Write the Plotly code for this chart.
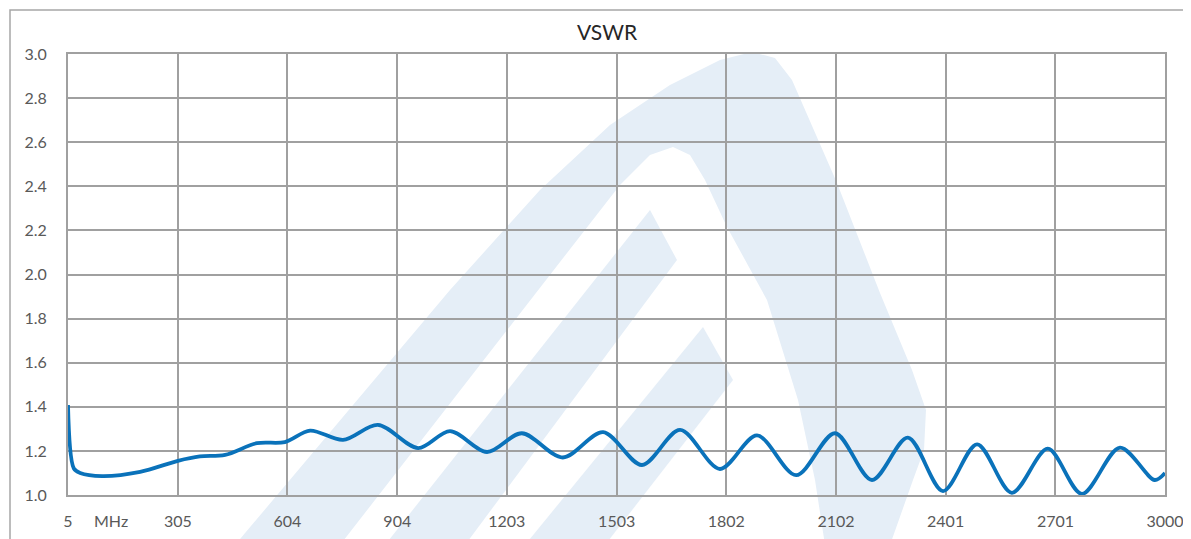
import plotly.graph_objects as go

# ---- data ----
freq_mhz = [5, 21, 38, 98, 202, 305, 365, 434, 521, 597, 666, 756, 851, 961, 1048,
            1149, 1244, 1356, 1466, 1572, 1676, 1785, 1886, 1993, 2099, 2200, 2298,
            2394, 2487, 2582, 2680, 2773, 2877, 2972, 3000]
vswr = [1.408, 1.12, 1.10, 1.086, 1.105, 1.155, 1.175, 1.182, 1.235, 1.24, 1.292, 1.25,
        1.318, 1.213, 1.29, 1.195, 1.28, 1.17, 1.285, 1.136, 1.295, 1.118, 1.27, 1.09,
        1.28, 1.068, 1.26, 1.018, 1.23, 1.01, 1.21, 1.005, 1.215, 1.068, 1.10]
x_ticks = [5, 305, 604, 904, 1203, 1503, 1802, 2102, 2401, 2701, 3000]
y_ticks = [1.0, 1.2, 1.4, 1.6, 1.8, 2.0, 2.2, 2.4, 2.6, 2.8, 3.0]

OFF = 8  # page body margin
W, H = 1191 - OFF, 539 - OFF
L, R, T, B = 68, 1165, 54, 495  # plot area in screen pixels
GRID = "#A0A0A0"
WM = "rgb(229,238,247)"


def px2paper(px, py):
    return (px - L) / (R - L), (B - py) / (B - T)


def poly(points):
    parts = []
    for i, (a, b) in enumerate(points):
        x, y = px2paper(a, b)
        parts.append(("M" if i == 0 else "L") + f"{x:.5f},{y:.5f}")
    return " ".join(parts) + " Z"


fig = go.Figure()
fig.add_trace(go.Scatter(
    x=freq_mhz, y=vswr, mode="lines",
    line=dict(color="#0A72BA", width=3.8, shape="spline", smoothing=0.9),
    hoverinfo="x+y", showlegend=False,
))

shapes = []
# watermark (stylised logo) - approximate
outer_a = [(235, 545), (450, 290), (540, 190), (610, 125), (670, 85), (720, 60), (752, 52),
           (775, 58), (792, 80), (837, 183), (880, 293), (912, 370), (926, 410), (924, 450),
           (913, 480), (890, 545), (825, 545), (815, 480), (798, 400), (767, 300), (727, 227),
           (705, 180), (690, 155), (673, 147), (650, 155), (620, 185), (560, 262), (340, 545)]
inner_band = [(650, 210), (677, 260), (465, 545), (385, 545)]
cross_piece = [(703, 327), (733, 380), (605, 545), (525, 545)]
for p in (outer_a, inner_band, cross_piece):
    shapes.append(dict(type="path", path=poly(p), xref="paper", yref="paper",
                       fillcolor=WM, line=dict(width=0), layer="below"))
# outer chart border
x0, y0 = px2paper(10, 10)
x1, y1 = px2paper(1200, 560)
shapes.append(dict(type="rect", xref="paper", yref="paper", x0=x0, y0=y1, x1=x1, y1=y0,
                   line=dict(color="#A6A6A6", width=1.5), fillcolor="rgba(0,0,0,0)", layer="below"))

mx, my = px2paper(111, 520)
fig.update_layout(
    width=W, height=H,
    margin=dict(l=L - OFF, r=W - (R - OFF), t=T - OFF, b=H - (B - OFF), autoexpand=False),
    paper_bgcolor="white", plot_bgcolor="rgba(0,0,0,0)",
    font=dict(family="Lato, Open Sans, sans-serif", color="#595959", size=16),
    title=dict(text="VSWR", x=px2paper(607, 0)[0], xref="paper", xanchor="center",
               y=1 - (33 - OFF) / H, yref="container", yanchor="middle",
               font=dict(size=21, color="#262626", family="Lato, Open Sans, sans-serif")),
    xaxis=dict(range=[5, 3000], tickmode="array", tickvals=x_ticks,
               ticktext=[str(v) for v in x_ticks], automargin=False,
               showgrid=True, gridcolor=GRID, gridwidth=2,
               showline=True, linecolor=GRID, linewidth=2, mirror=True,
               zeroline=False, ticks="", ticklabelstandoff=11, fixedrange=True),
    yaxis=dict(range=[1.0, 3.0], tickmode="array", tickvals=y_ticks,
               ticktext=[f"{v:.1f}" for v in y_ticks], automargin=False,
               showgrid=True, gridcolor=GRID, gridwidth=2,
               showline=True, linecolor=GRID, linewidth=2, mirror=True,
               zeroline=False, ticks="", ticklabelstandoff=16, fixedrange=True),
    shapes=shapes,
    annotations=[dict(text="MHz", x=mx, y=my, xref="paper", yref="paper",
                      showarrow=False, xanchor="center", yanchor="middle",
                      font=dict(size=16, color="#595959"))],
)

fig.write_html("out.html")
